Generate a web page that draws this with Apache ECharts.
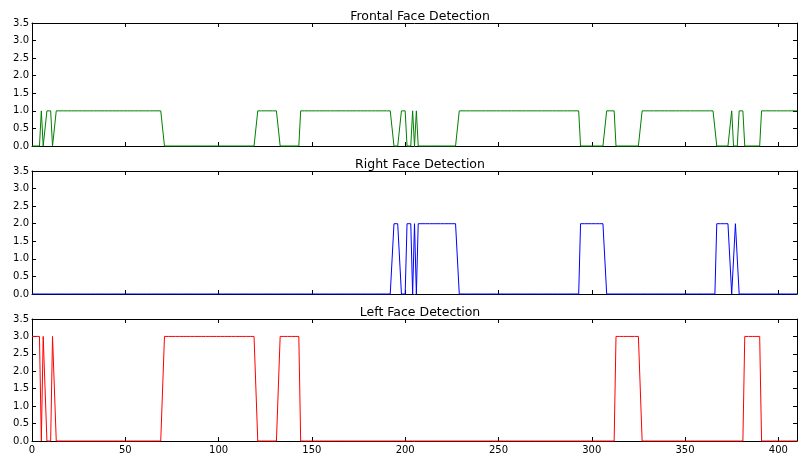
<!DOCTYPE html>
<html>
<head>
<meta charset="utf-8">
<script src="https://cdn.jsdelivr.net/npm/echarts@6.0.0/dist/echarts.min.js"></script>
<style>
html,body{margin:0;padding:0;background:#fff;}
#chart{width:798px;height:458px;}
</style>
</head>
<body>
<div id="chart"></div>
<script>
// ---- data ----
var titles = ['Frontal Face Detection', 'Right Face Detection', 'Left Face Detection'];
var lastFrame = 410;
var xTicks = [0, 50, 100, 150, 200, 250, 300, 350, 400];
var yTicks = [0, 0.5, 1.0, 1.5, 2.0, 2.5, 3.0, 3.5];
// detection value per series
var frontalValue = 1;
var rightValue = 2;
var leftValue = 3;
// frame ranges [from, to] (inclusive) where each detector fires
var frontalRuns = [[5,5],[8,10],[13,70],[121,132],[144,193],[198,200],[204,204],[206,206],[229,293],[308,312],[327,366],[375,375],[379,381],[391,410]];
var rightRuns = [[194,197],[201,203],[205,205],[207,228],[294,307],[367,374],[377,378]];
var leftRuns = [[0,4],[6,7],[11,12],[71,120],[133,143],[313,326],[382,390]];

function expand(runs, value) {
  var arr = [];
  for (var f = 0; f <= lastFrame; f++) arr.push([f, 0]);
  runs.forEach(function (r) {
    for (var f = r[0]; f <= r[1]; f++) arr[f][1] = value;
  });
  return arr;
}
var seriesData = [expand(frontalRuns, frontalValue), expand(rightRuns, rightValue), expand(leftRuns, leftValue)];
var colors = ['#008000', '#0000ff', '#ff0000'];

var gridTops = [23, 171, 319];
var gridH = [123, 123, 122];
var font = 'DejaVu Sans';
var axisColor = '#000';

var grids = [], xAxes = [], yAxes = [], series = [], titleOpts = [];
for (var i = 0; i < 3; i++) {
  grids.push({left: 32, right: 1, top: gridTops[i], height: gridH[i], containLabel: false});
  titleOpts.push({
    text: titles[i], left: 415, top: gridTops[i] - 18, textAlign: 'center',
    textStyle: {fontFamily: font, fontSize: 12.5, fontWeight: 'normal', color: '#000'}
  });
  var common = {
    type: 'value', gridIndex: i, min: 0, max: lastFrame,
    axisLine: {show: true, onZero: false, lineStyle: {color: axisColor, width: 1}},
    splitLine: {show: false}
  };
  xAxes.push(Object.assign({}, common, {
    position: 'bottom',
    axisTick: {show: true, inside: true, length: 4, customValues: xTicks, lineStyle: {color: axisColor}},
    axisLabel: {show: i === 2, customValues: xTicks, margin: 4, fontFamily: font, fontSize: 10, color: '#000'}
  }));
  xAxes.push(Object.assign({}, common, {
    position: 'top',
    axisTick: {show: true, inside: true, length: 4, customValues: xTicks, lineStyle: {color: axisColor}},
    axisLabel: {show: false}
  }));
  var ycommon = {
    type: 'value', gridIndex: i, min: 0, max: 3.5, interval: 0.5,
    axisLine: {show: true, onZero: false, lineStyle: {color: axisColor, width: 1}},
    splitLine: {show: false}
  };
  yAxes.push(Object.assign({}, ycommon, {
    position: 'left',
    axisTick: {show: true, inside: true, length: 4, customValues: yTicks, lineStyle: {color: axisColor}},
    axisLabel: {show: true, customValues: yTicks, margin: 3, fontFamily: font, fontSize: 10, color: '#000',
      formatter: function (v) { return Number(v).toFixed(1); }}
  }));
  yAxes.push(Object.assign({}, ycommon, {
    position: 'right',
    axisTick: {show: true, inside: true, length: 4, customValues: yTicks, lineStyle: {color: axisColor}},
    axisLabel: {show: false}
  }));
  series.push({
    type: 'line', xAxisIndex: i * 2, yAxisIndex: i * 2, data: seriesData[i],
    showSymbol: false, symbol: 'none', clip: false,
    lineStyle: {color: colors[i], width: 1}, itemStyle: {color: colors[i]},
    animation: false, z: 5
  });
}

var chart = echarts.init(document.getElementById('chart'), null, {renderer: 'canvas'});
chart.setOption({
  animation: false,
  backgroundColor: '#fff',
  title: titleOpts,
  grid: grids,
  xAxis: xAxes,
  yAxis: yAxes,
  series: series
});
</script>
</body>
</html>
